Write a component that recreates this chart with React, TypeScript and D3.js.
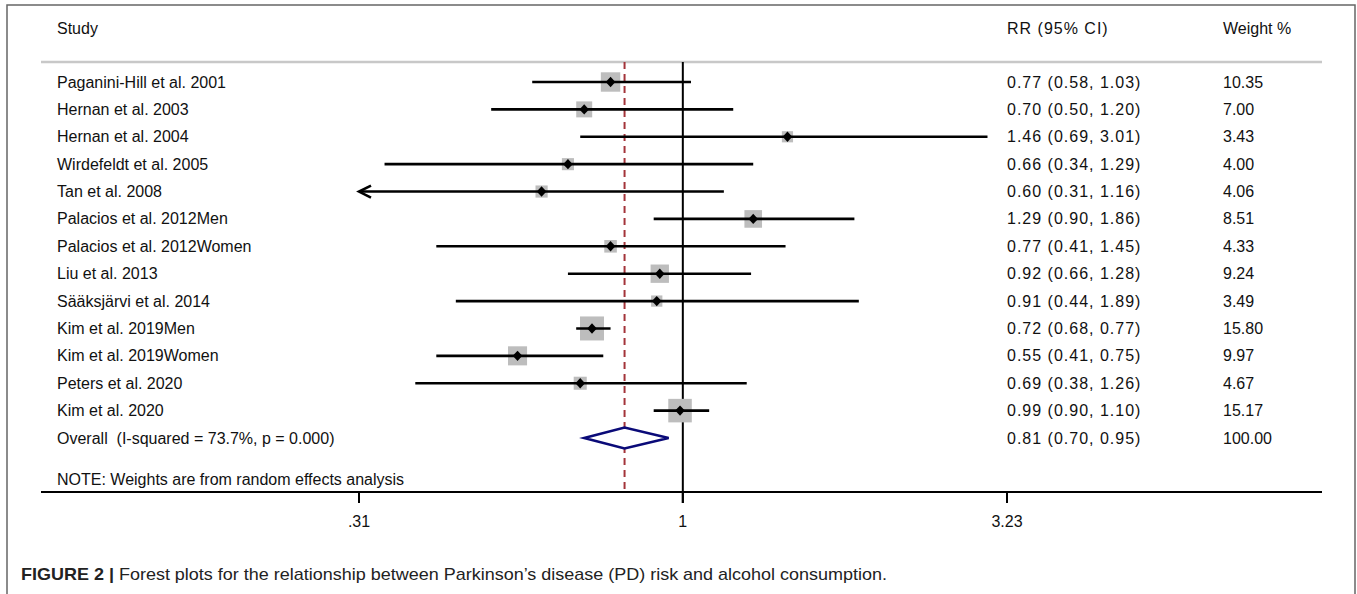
import React from 'react';
import * as d3 from 'd3';

const W = 1357;
const H = 594;

const studies = [
  'Paganini-Hill et al. 2001',
  'Hernan et al. 2003',
  'Hernan et al. 2004',
  'Wirdefeldt et al. 2005',
  'Tan et al. 2008',
  'Palacios et al. 2012Men',
  'Palacios et al. 2012Women',
  'Liu et al. 2013',
  'Sääksjärvi et al. 2014',
  'Kim et al. 2019Men',
  'Kim et al. 2019Women',
  'Peters et al. 2020',
  'Kim et al. 2020',
];
const rr = [0.77, 0.7, 1.46, 0.66, 0.6, 1.29, 0.77, 0.92, 0.91, 0.72, 0.55, 0.69, 0.99];
const lower = [0.58, 0.5, 0.69, 0.34, 0.31, 0.9, 0.41, 0.66, 0.44, 0.68, 0.41, 0.38, 0.9];
const upper = [1.03, 1.2, 3.01, 1.29, 1.16, 1.86, 1.45, 1.28, 1.89, 0.77, 0.75, 1.26, 1.1];
const weights = [10.35, 7.0, 3.43, 4.0, 4.06, 8.51, 4.33, 9.24, 3.49, 15.8, 9.97, 4.67, 15.17];

const overallLabel = 'Overall  (I-squared = 73.7%, p = 0.000)';
const overall = { rr: 0.81, lower: 0.7, upper: 0.95, weight: 100 };

const xTicks = [0.31, 1, 3.23];
const xTickLabels = ['.31', '1', '3.23'];

const FONT = '"Liberation Sans", Arial, sans-serif';
const FS = 16;

export default function App() {
  const x = d3.scaleLog().domain([0.31, 3.23]).range([359, 1007]);
  const y = d3.scaleLinear().domain([0, studies.length]).range([82, 438]);
  const side = d3.scaleSqrt().domain([0, 15.8]).range([0, 24]);

  const axisY = 492;
  const topLine = 62;
  const fmt = d3.format('.2f');
  const ciText = (r: number, l: number, u: number) => `${fmt(r)} (${fmt(l)}, ${fmt(u)})`;

  const diamond = (cx: number, cy: number, hw: number, hh: number) =>
    `M${cx - hw},${cy}L${cx},${cy - hh}L${cx + hw},${cy}L${cx},${cy + hh}Z`;

  const [dMin] = x.domain();
  const oy = y(studies.length);

  return (
    <div style={{ position: 'absolute', left: 0, top: 0 }}>
      <svg width={W} height={H} style={{ display: 'block', fontFamily: FONT }}>
        <rect width={W} height={H} fill="#fff" />
        {/* frame */}
        <path d={`M7,${H}V5H1355V${H}`} fill="none" stroke="#666" strokeWidth={1.5} />

        {/* headers */}
        <g fontSize={FS} fill="#111" dominantBaseline="central">
          <text x={57} y={28}>Study</text>
          <text x={1007} y={28} letterSpacing={1}>RR (95% CI)</text>
          <text x={1223} y={28}>Weight %</text>
        </g>
        <line x1={41} x2={1322} y1={topLine} y2={topLine} stroke="#c8c8c8" strokeWidth={2.5} />

        {/* null line */}
        <line x1={x(1)} x2={x(1)} y1={topLine} y2={axisY + 11} stroke="#000" strokeWidth={2} />
        {/* overall dashed line */}
        <line
          x1={x(overall.rr)}
          x2={x(overall.rr)}
          y1={topLine}
          y2={axisY}
          stroke="#a3343a"
          strokeWidth={2}
          strokeDasharray="7,5"
        />

        {/* study rows */}
        {studies.map((s, i) => {
          const cy = y(i);
          const lo = Math.max(lower[i], dMin);
          const cut = lower[i] <= dMin;
          const sz = side(weights[i]);
          return (
            <g key={s}>
              <text x={57} y={cy} fontSize={FS} fill="#111" dominantBaseline="central">{s}</text>
              <rect x={x(rr[i]) - sz / 2} y={cy - sz / 2} width={sz} height={sz} fill="#bdbdbd" />
              <line x1={x(lo)} x2={x(upper[i])} y1={cy} y2={cy} stroke="#000" strokeWidth={2.6} />
              {cut && (
                <path
                  d={`M${x(lo) + 12},${cy - 6}L${x(lo)},${cy}L${x(lo) + 12},${cy + 6}`}
                  fill="none"
                  stroke="#000"
                  strokeWidth={2.6}
                />
              )}
              <path d={diamond(x(rr[i]), cy, 4.8, 5.2)} fill="#000" />
              <text x={1007} y={cy} fontSize={FS} fill="#111" dominantBaseline="central" letterSpacing={1}>
                {ciText(rr[i], lower[i], upper[i])}
              </text>
              <text x={1223} y={cy} fontSize={FS} fill="#111" dominantBaseline="central">
                {fmt(weights[i])}
              </text>
            </g>
          );
        })}

        {/* overall */}
        <g>
          <text x={57} y={oy} fontSize={FS} fill="#111" dominantBaseline="central" style={{ whiteSpace: 'pre' }}>
            {overallLabel}
          </text>
          <path
            d={`M${x(overall.lower)},${oy}L${x(overall.rr)},${oy - 10.5}L${x(overall.upper)},${oy}L${x(overall.rr)},${oy + 10.5}Z`}
            fill="#fff"
            stroke="#0a0a78"
            strokeWidth={2.6}
          />
          <text x={1007} y={oy} fontSize={FS} fill="#111" dominantBaseline="central" letterSpacing={1}>
            {ciText(overall.rr, overall.lower, overall.upper)}
          </text>
          <text x={1223} y={oy} fontSize={FS} fill="#111" dominantBaseline="central">
            {fmt(overall.weight)}
          </text>
        </g>

        <text x={57} y={479} fontSize={FS} fill="#111" dominantBaseline="central">
          NOTE: Weights are from random effects analysis
        </text>

        {/* axis */}
        <line x1={41} x2={1322} y1={axisY} y2={axisY} stroke="#000" strokeWidth={2} />
        {xTicks.map((t, i) => (
          <g key={t}>
            <line x1={x(t)} x2={x(t)} y1={axisY} y2={axisY + 11} stroke="#000" strokeWidth={2} />
            <text x={x(t)} y={521} fontSize={FS} fill="#111" textAnchor="middle" dominantBaseline="central">
              {xTickLabels[i]}
            </text>
          </g>
        ))}

        {/* caption */}
        <text
          x={21}
          y={574}
          fontSize={17}
          fill="#222"
          dominantBaseline="central"
          textLength={866}
          lengthAdjust="spacingAndGlyphs"
        >
          <tspan fontWeight="bold">FIGURE 2 |</tspan>
          <tspan> Forest plots for the relationship between Parkinson’s disease (PD) risk and alcohol consumption.</tspan>
        </text>
      </svg>
    </div>
  );
}
